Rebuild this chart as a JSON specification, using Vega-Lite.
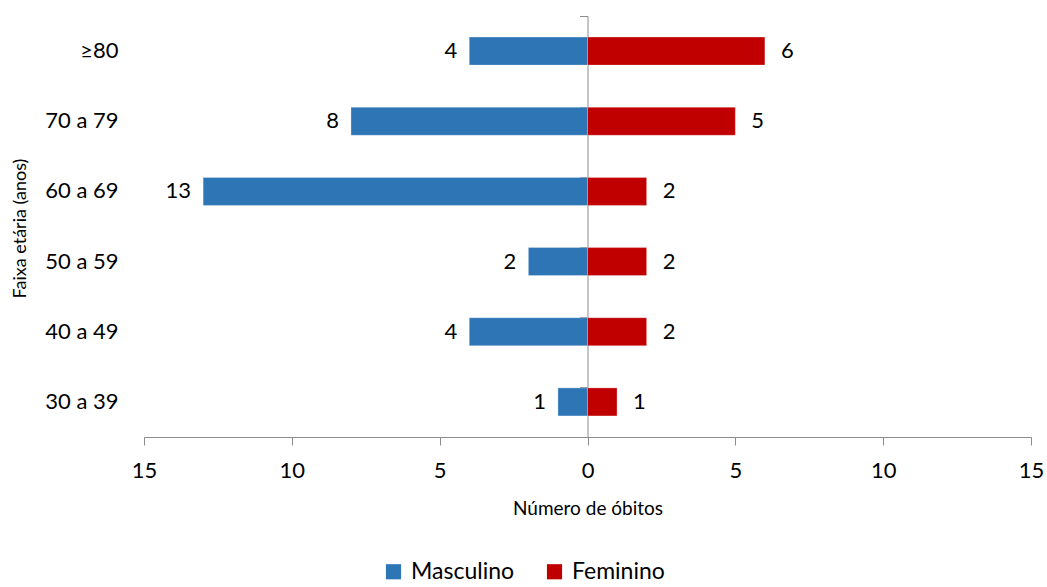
{
  "$schema": "https://vega.github.io/schema/vega-lite/v6.json",
  "width": 887,
  "height": 421,
  "autosize": {"type": "none"},
  "padding": {"left": 144, "top": 16, "right": 16, "bottom": 150},
  "background": "white",
  "config": {
    "font": "Lato",
    "view": {"stroke": null}
  },
  "data": {
    "values": [
      {"faixa": "≥80", "sexo": "Masculino", "obitos": 4, "valor": -4},
      {"faixa": "≥80", "sexo": "Feminino", "obitos": 6, "valor": 6},
      {"faixa": "70 a 79", "sexo": "Masculino", "obitos": 8, "valor": -8},
      {"faixa": "70 a 79", "sexo": "Feminino", "obitos": 5, "valor": 5},
      {"faixa": "60 a 69", "sexo": "Masculino", "obitos": 13, "valor": -13},
      {"faixa": "60 a 69", "sexo": "Feminino", "obitos": 2, "valor": 2},
      {"faixa": "50 a 59", "sexo": "Masculino", "obitos": 2, "valor": -2},
      {"faixa": "50 a 59", "sexo": "Feminino", "obitos": 2, "valor": 2},
      {"faixa": "40 a 49", "sexo": "Masculino", "obitos": 4, "valor": -4},
      {"faixa": "40 a 49", "sexo": "Feminino", "obitos": 2, "valor": 2},
      {"faixa": "30 a 39", "sexo": "Masculino", "obitos": 1, "valor": -1},
      {"faixa": "30 a 39", "sexo": "Feminino", "obitos": 1, "valor": 1}
    ]
  },
  "encoding": {
    "y": {
      "field": "faixa",
      "type": "nominal",
      "sort": ["≥80", "70 a 79", "60 a 69", "50 a 59", "40 a 49", "30 a 39"],
      "scale": {"paddingInner": 0.6, "paddingOuter": 0.3},
      "axis": null
    },
    "x": {
      "field": "valor",
      "type": "quantitative",
      "scale": {"domain": [-15, 15], "nice": false},
      "axis": {
        "values": [-15, -10, -5, 0, 5, 10, 15],
        "labelExpr": "abs(datum.value)",
        "labelFlush": false,
        "grid": false,
        "domainColor": "#8c8c8c",
        "tickColor": "#8c8c8c",
        "tickSize": 8,
        "labelFontSize": 22,
        "labelColor": "#000000",
        "labelPadding": 15,
        "labelFont": "Lato",
        "title": "Número de óbitos",
        "titleFontSize": 19,
        "titleFontWeight": "normal",
        "titleColor": "#000000",
        "titlePadding": 18
      }
    }
  },
  "layer": [
    {
      "mark": {"type": "bar", "stroke": "white", "strokeWidth": 0.5, "strokeOpacity": 0.6},
      "encoding": {
        "y": {
          "field": "faixa",
          "type": "nominal",
          "sort": ["≥80", "70 a 79", "60 a 69", "50 a 59", "40 a 49", "30 a 39"],
          "axis": {
            "orient": "left",
            "domain": false,
            "ticks": false,
            "labelFontSize": 22,
            "labelColor": "#000000",
            "labelPadding": 26,
            "title": "Faixa etária (anos)",
            "titleFontSize": 18,
            "titleFontWeight": "normal",
            "titleColor": "#000000",
            "titleX": -124,
            "titleY": 212,
            "titleAngle": -90,
            "titleAlign": "center",
            "titleBaseline": "middle"
          }
        },
        "color": {
          "field": "sexo",
          "type": "nominal",
          "scale": {"domain": ["Masculino", "Feminino"], "range": ["#2E75B6", "#C00000"]},
          "legend": {
            "title": null,
            "orient": "none",
            "direction": "horizontal",
            "legendX": 238,
            "legendY": 544,
            "symbolType": "square",
            "symbolSize": 230,
            "symbolStrokeWidth": 0,
            "symbolOpacity": 1,
            "labelFontSize": 23,
            "labelColor": "#000000",
            "labelOffset": 6,
            "columnPadding": 28,
            "padding": 0
          }
        }
      }
    },
    {
      "transform": [{"filter": "datum.sexo == 'Masculino'"}],
      "mark": {"type": "text", "align": "right", "baseline": "middle", "dx": -12, "fontSize": 22, "color": "#000000"},
      "encoding": {
        "text": {"field": "obitos", "type": "quantitative"},
        "y": {
          "field": "faixa",
          "type": "nominal",
          "sort": ["≥80", "70 a 79", "60 a 69", "50 a 59", "40 a 49", "30 a 39"],
          "axis": {
            "orient": "left",
            "offset": -443.5,
            "labels": false,
            "title": null,
            "domainColor": "#8c8c8c",
            "tickColor": "#8c8c8c",
            "tickSize": 8,
            "bandPosition": 0,
            "tickExtra": true
          }
        }
      }
    },
    {
      "transform": [{"filter": "datum.sexo == 'Feminino'"}],
      "mark": {"type": "text", "align": "left", "baseline": "middle", "dx": 16, "fontSize": 22, "color": "#000000"},
      "encoding": {
        "text": {"field": "obitos", "type": "quantitative"}
      }
    }
  ],
  "resolve": {"axis": {"y": "independent"}}
}
